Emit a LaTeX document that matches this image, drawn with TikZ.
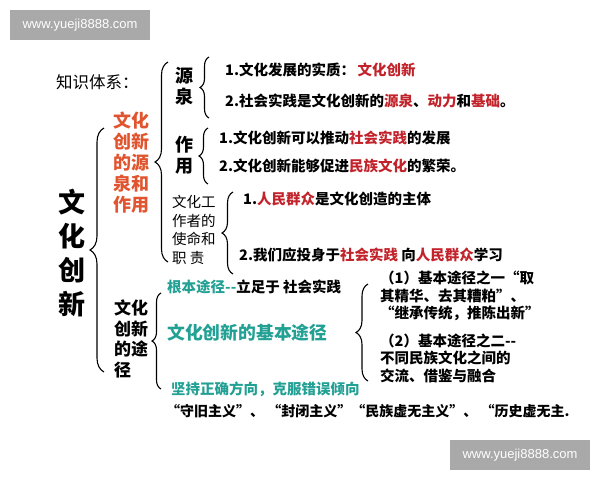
\documentclass[tikz,border=0pt]{standalone}
\usepackage{fontspec}
\usetikzlibrary{decorations.pathreplacing}
\newfontfamily\cjk{Noto Sans CJK SC}
\newfontfamily\wmfont{Liberation Sans}
\definecolor{rd}{HTML}{C2232B}
\definecolor{orng}{HTML}{E0552F}
\definecolor{tl}{HTML}{22A094}
\definecolor{wmg}{HTML}{A9A9A9}
\tikzset{
  txt/.style={inner sep=0pt, anchor=west, align=left, font=\cjk\bfseries\fontsize{14.5}{17.5}\selectfont},
  vert/.style={inner sep=0pt, align=center, font=\cjk\bfseries\fontsize{18}{21}\selectfont},
  brc/.style={decorate, decoration={brace, amplitude=#1}, line width=1.1pt},
  wmbox/.style={fill=wmg, text=white, minimum width=140pt, minimum height=30pt, inner sep=0pt, font=\wmfont\fontsize{13}{15}\selectfont}
}
\begin{document}
\begin{tikzpicture}[x=1pt,y=-1pt]
\useasboundingbox (0,0) rectangle (600,480);
% watermarks
\node[wmbox] (w1) at (80,25) {www.yueji8888.com};
\node[wmbox] (w2) at (520,455) {www.yueji8888.com};
% title
\node[inner sep=0pt, anchor=west, font=\cjk\fontsize{16.5}{18}\selectfont] (title) at (56,82) {知识体系：};
% big left
\node[inner sep=0pt, align=center, font=\cjk\bfseries\fontsize{27}{33.7}\selectfont] (main) at (72,253) {文\\化\\创\\新};
% red vertical
\node[vert, text=orng] (yq) at (131,163) {文化\\创新\\的源\\泉和\\作用};
\node[vert] (yuan) at (184,86.5) {源\\泉};
\node[vert] (zuo) at (184,155.5) {作\\用};
\node[txt, font=\cjk\fontsize{14.5}{18.7}\selectfont] (zz) at (172,230) {文化工\\作者的\\使命和\\职 责};
\node[txt, font=\cjk\bfseries\fontsize{17}{20.7}\selectfont] (tj) at (114,339) {文化\\创新\\的途\\径};
% lines
\node[txt] (a1) at (225,70) {1.文化发展的实质：\,\textcolor{rd}{文化创新}};
\node[txt] (a2) at (225,101) {2.社会实践是文化创新的\textcolor{rd}{源泉}、\textcolor{rd}{动力}和\textcolor{rd}{基础}。};
\node[txt] (b1) at (219,138) {1.文化创新可以推动\textcolor{rd}{社会实践}的发展};
\node[txt] (b2) at (219,166) {2.文化创新能够促进\textcolor{rd}{民族文化}的繁荣。};
\node[txt] (c1) at (243,199) {1.\textcolor{rd}{人民群众}是文化创造的主体};
\node[txt] (c2) at (239,255) {2.我们应投身于\textcolor{rd}{社会实践} 向\textcolor{rd}{人民群众}学习};
\node[txt] (d1) at (167,287) {\textcolor{tl}{根本途径--}立足于 社会实践};
\node[txt, text=tl, font=\cjk\bfseries\fontsize{17.8}{20}\selectfont] (d2) at (167,333) {文化创新的基本途径};
\node[txt, text=tl] (d3) at (171,389) {坚持正确方向，克服错误倾向};
\node[txt, font=\cjk\bfseries\fontsize{14}{17}\selectfont] (d4) at (166,411) {“守旧主义”、 “封闭主义”“民族虚无主义”、 “历史虚无主.};
\node[txt] (e1) at (380,296) {（1）基本途径之一“取\\其精华、去其糟粕”、\\“继承传统，推陈出新”};
\node[txt] (e2) at (380,358) {（2）基本途径之二--\\不同民族文化之间的\\交流、借鉴与融合};
% braces
\coordinate (b1s) at (104,372); \coordinate (b1e) at (104,128);
\coordinate (b2s) at (168,262); \coordinate (b2e) at (168,62);
\coordinate (b3s) at (209,118); \coordinate (b3e) at (209,57);
\coordinate (b4s) at (208,184); \coordinate (b4e) at (208,128);
\coordinate (b5s) at (233,274); \coordinate (b5e) at (233,192);
\coordinate (b6s) at (161,389); \coordinate (b6e) at (161,293);
\coordinate (b7s) at (368,381); \coordinate (b7e) at (368,284);
\draw[brc=14pt] (b1s) -- (b1e);
\draw[brc=13pt] (b2s) -- (b2e);
\draw[brc=9pt] (b3s) -- (b3e);
\draw[brc=9pt] (b4s) -- (b4e);
\draw[brc=11pt] (b5s) -- (b5e);
\draw[brc=9pt] (b6s) -- (b6e);
\draw[brc=12pt] (b7s) -- (b7e);
\end{tikzpicture}
\end{document}
